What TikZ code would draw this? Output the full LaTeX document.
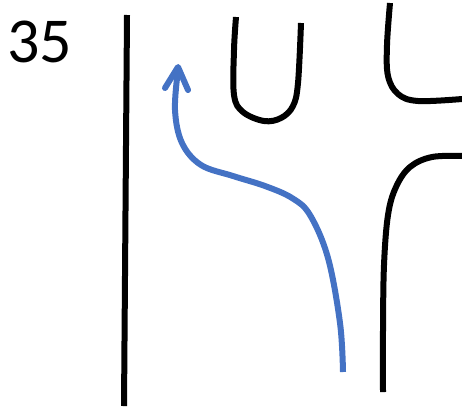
\documentclass[tikz,border=0pt]{standalone}
\usepackage{fontspec}
\setmainfont{Carlito}
\definecolor{arrowblue}{HTML}{4472C4}
\tikzset{
  ink/.style={line width=6pt, line cap=butt, line join=round},
  bluepath/.style={line width=6pt, draw=arrowblue, line join=round}
}
\begin{document}
\begin{tikzpicture}[x=1pt,y=-1pt]
\useasboundingbox (0,0) rectangle (462,407);
\node[anchor=base west, inner sep=0pt, font=\fontsize{64}{64}\selectfont] (num) at (7,62) {35};
% left vertical line
\coordinate (lt) at (127,15);
\coordinate (lb) at (124,406);
\draw[ink] (lt) -- (lb);
% U shape
\draw[ink] plot[smooth, tension=0.6] coordinates {(236,17) (234,50) (234,95) (243,112) (264,121) (281,118) (293,106) (298,83) (301,23)};
% L shape top right
\draw[ink] plot[smooth, tension=0.6] coordinates {(390,3) (387,45) (388,76) (398,94) (418,101) (462,99)};
% lower right curve
\draw[ink] plot[smooth, tension=0.6] coordinates {(462,156) (432,157) (410,167) (396,187) (388,215) (384,265) (383,330) (383,392)};
% blue arrow
\draw[bluepath, line cap=butt] plot[smooth, tension=0.6] coordinates {(343,372) (340,323) (328,258) (310,215) (292,198) (265,186) (233,176) (201,165) (182,143) (175,110) (178,70)};
\coordinate (tip) at (178,67);
\coordinate (wl) at (165,88);
\coordinate (wr) at (188,90);
\draw[bluepath, line cap=round] (wl) -- (tip) -- (wr);
\end{tikzpicture}
\end{document}
